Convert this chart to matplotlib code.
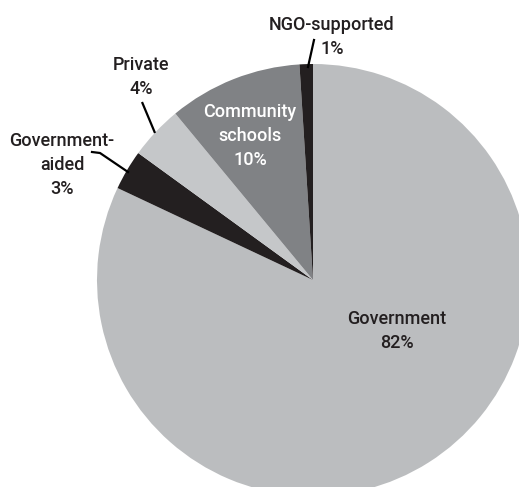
import matplotlib
matplotlib.use("Agg")
import matplotlib.pyplot as plt

# school types, shares (%) as printed on the chart
categories = ["Government", "Government-aided", "Private", "Community schools", "NGO-supported"]
shares = [82, 3, 4, 10, 1]
label_texts = ["Government\n82%", "Government-\naided\n3%", "Private\n4%",
               "Community\nschools\n10%", "NGO-supported\n1%"]
colors = ["#bbbdbf", "#231f20", "#c5c7c9", "#808285", "#231f20"]

W, H = 519, 487
plt.rcParams['font.family'] = ['Roboto', 'DejaVu Sans']

fig = plt.figure(figsize=(W / 100, H / 100), dpi=100)
ax = fig.add_axes([0, 0, 1, 1])


def py(y):
    # pixel row (top down) -> data y
    return H - y


ax.pie(shares, colors=colors, startangle=90, counterclock=False,
       center=(313, py(280)), radius=216,
       wedgeprops=dict(linewidth=0), frame=True)
ax.set_xlim(0, W)
ax.set_ylim(0, H)
ax.set_aspect('equal')
ax.axis('off')

txt = "#231f20"
fs = 13
ls = 1.45
kw = dict(ha='center', va='center', fontsize=fs, linespacing=ls, fontweight='medium')
ax.text(397, py(331), label_texts[0], color=txt, **kw)
ax.text(62, py(165), label_texts[1], color=txt, **kw)
ax.text(141, py(77), label_texts[2], color=txt, **kw)
ax.text(250, py(136), label_texts[3], color='white', **kw)
ax.text(332, py(37), label_texts[4], color=txt, **kw)

# leader lines
lw = 1.6
ax.plot([142, 155], [py(102), py(133)], color='black', lw=lw, solid_capstyle='butt')
ax.plot([92, 100, 128], [py(152), py(153), py(172)], color='black', lw=lw)
ax.plot([314, 308], [py(40), py(67)], color='black', lw=lw)

fig.savefig("out.png", dpi=100)
